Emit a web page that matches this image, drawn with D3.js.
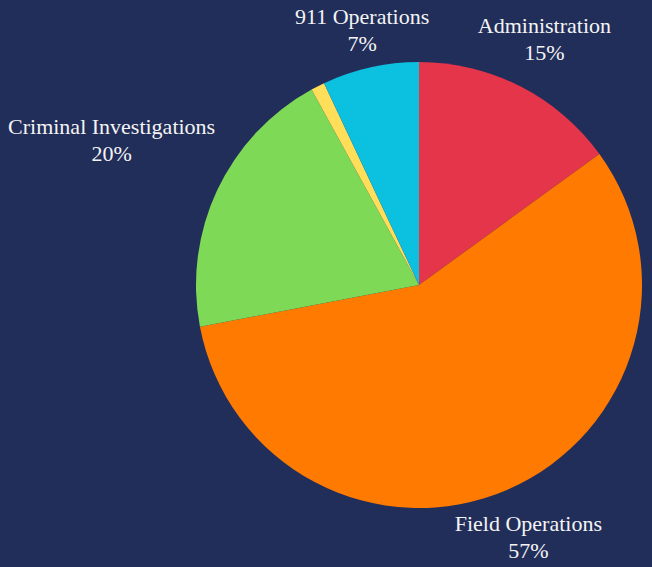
<!DOCTYPE html>
<html>
<head>
<meta charset="utf-8">
<script src="https://cdn.jsdelivr.net/npm/d3@7"></script>
<style>
  html, body { margin: 0; padding: 0; background: #222e5a; }
  .lbl { font-family: "Liberation Serif", "DejaVu Serif", serif; font-size: 22px; fill: #f4f4f4; }
</style>
</head>
<body>
<div class="chart"></div>
<script>
var svgWidth = 652;
var svgHeight = 567;

// slice data, clockwise from 12 o'clock
var categories = ["Administration", "Field Operations", "Criminal Investigations", "Other", "911 Operations"];
var shares = [15, 57, 20, 1, 7];
var colors = ["#e5354b", "#ff7a00", "#7ed957", "#ffde59", "#0cc0df"];
var showLabel = [true, true, true, false, true];

var cx = 419, cy = 285, radius = 223;
var labelGap = 246;   // distance of label block from center, plus half its width * |sin|
var lineGap = 27;
var fontSize = 22;

var svg = d3.select(".chart")
    .append("svg")
    .attr("width", svgWidth)
    .attr("height", svgHeight);

svg.append("rect")
    .attr("width", svgWidth)
    .attr("height", svgHeight)
    .attr("fill", "#222e5a");

var chartGroup = svg.append("g")
    .attr("transform", `translate(${cx}, ${cy})`);

var data = categories.map(function(c, i) {
    return { name: c, value: shares[i], color: colors[i], show: showLabel[i] };
});

var pie = d3.pie()
    .sort(null)
    .value(d => d.value);

var arc = d3.arc()
    .innerRadius(0)
    .outerRadius(radius);

var arcs = pie(data);

chartGroup.selectAll("path")
    .data(arcs)
    .enter()
    .append("path")
    .attr("d", arc)
    .attr("fill", d => d.data.color);

// labels: name + percent, centered on the slice mid angle
var labels = chartGroup.selectAll("text.lbl")
    .data(arcs.filter(d => d.data.show))
    .enter()
    .append("text")
    .attr("class", "lbl")
    .style("text-anchor", "middle");

labels.append("tspan").attr("x", 0).attr("y", 0).text(d => d.data.name);
labels.append("tspan").attr("x", 0).attr("y", lineGap).text(d => d.data.value + "%");

labels.each(function(d) {
    var t = d3.select(this);
    var w = d3.max(t.selectAll("tspan").nodes(), n => n.getComputedTextLength());
    var mid = (d.startAngle + d.endAngle) / 2;
    var s = Math.sin(mid), c = Math.cos(mid);
    var r = labelGap + Math.abs(s) * w / 2;
    // block center = midway between first line cap top and last baseline
    var yOff = (lineGap - 0.66 * fontSize) / 2;
    t.attr("transform", `translate(${r * s}, ${-r * c - yOff})`);
});
</script>
</body>
</html>
